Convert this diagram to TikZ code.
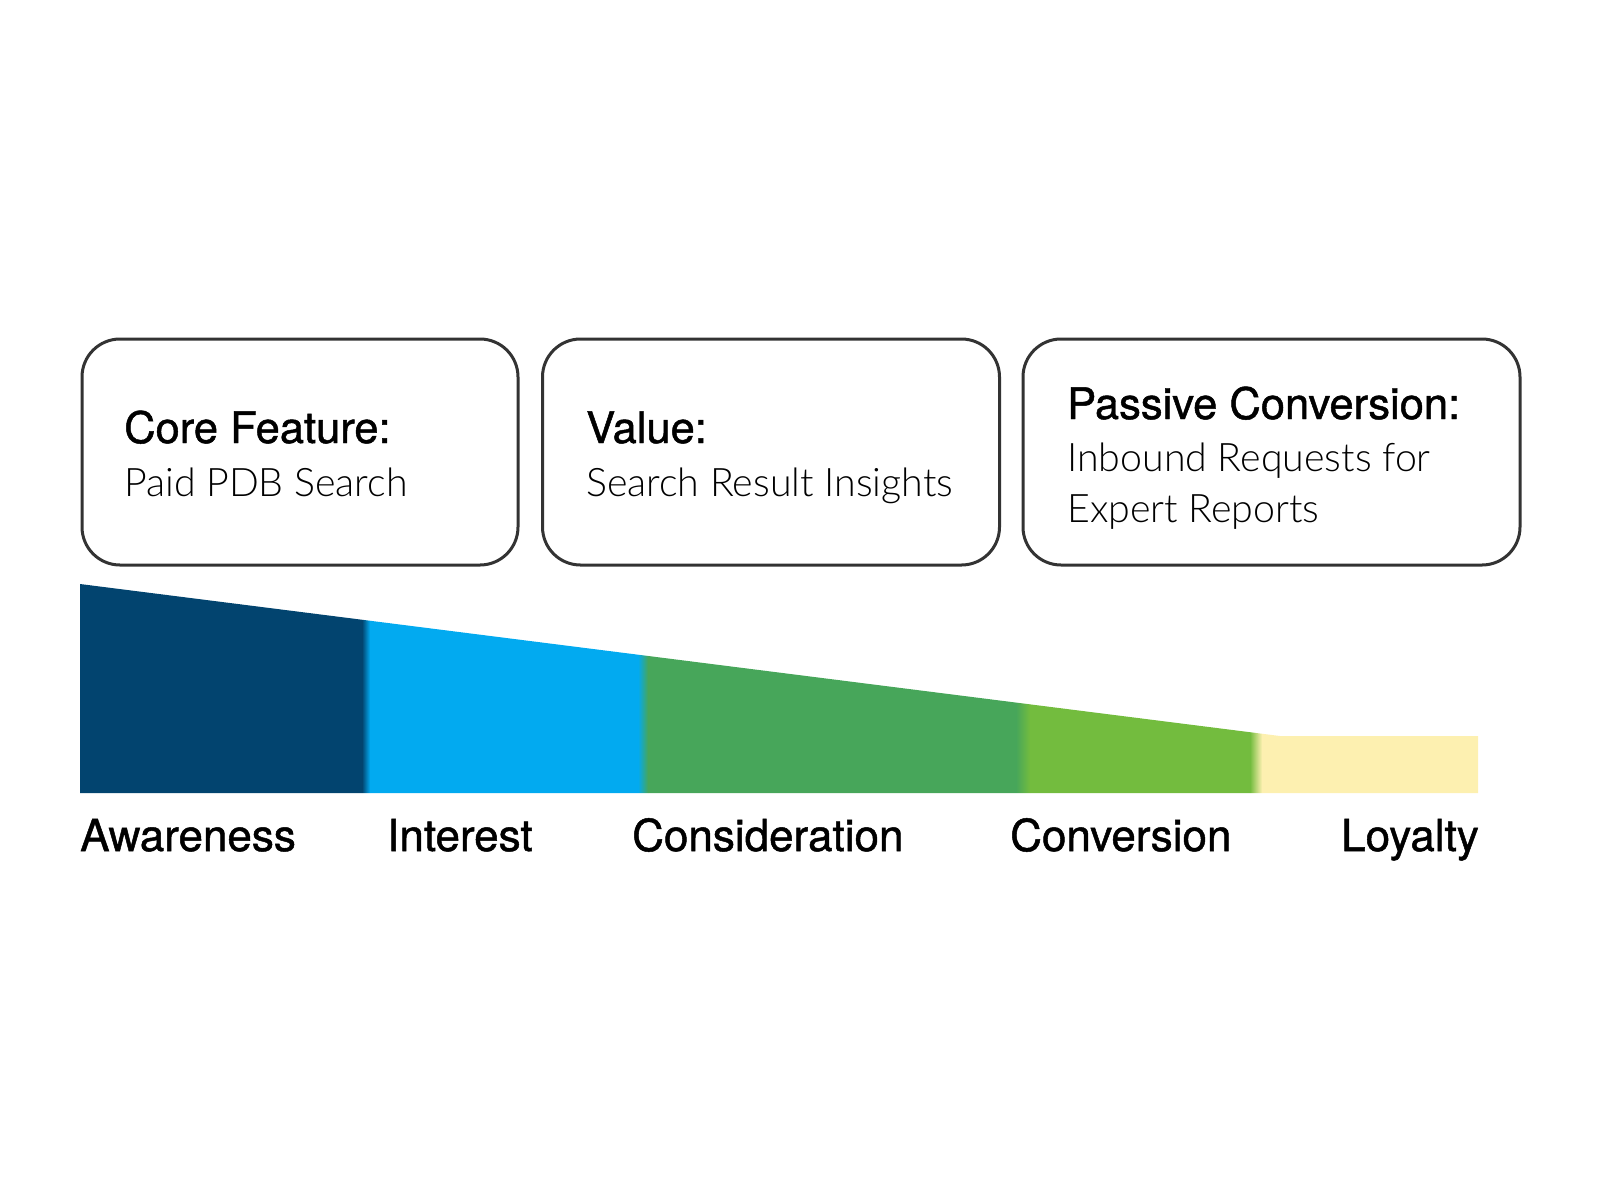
\documentclass[tikz,border=0pt]{standalone}
\usepackage{fontspec}
\setmainfont{TeX Gyre Heros}
\newfontfamily\medfont{TeX Gyre Heros}[FakeBold=1.1]
\newfontfamily\lightfont{Lato Light}
\definecolor{navy}{HTML}{02446F}
\definecolor{sky}{HTML}{02AAF0}
\definecolor{grn}{HTML}{47A65A}
\definecolor{lime}{HTML}{73BC3E}
\definecolor{cream}{HTML}{FDF0B0}
\definecolor{edge}{HTML}{333333}
\tikzset{
  card/.style={draw=edge, line width=3pt, rounded corners=38pt, fill=white, inner sep=0pt},
  headtxt/.style={anchor=base west, inner sep=0pt, font=\medfont\fontsize{43.5}{50}\selectfont},
  subtxt/.style={anchor=base west, inner sep=0pt, font=\lightfont\fontsize{39.3}{46}\selectfont},
  stagetxt/.style={anchor=base west, inner sep=0pt, font=\medfont\fontsize{44}{50}\selectfont}
}
\begin{document}
\begin{tikzpicture}[x=1pt,y=-1pt]
\useasboundingbox (0,0) rectangle (1600,1200);
% cards
\node[card, minimum width=436pt, minimum height=226pt] (c1) at (300,452) {};
\node[card, minimum width=457pt, minimum height=226pt] (c2) at (771,452) {};
\node[card, minimum width=497pt, minimum height=226pt] (c3) at (1271.5,452) {};
\node[headtxt] (h1) at (124,443) {Core Feature:};
\node[subtxt] (s1) at (124,496) {Paid PDB Search};
\node[headtxt] (h2) at (586,443) {Value:};
\node[subtxt] (s2) at (586,496) {Search Result Insights};
\node[headtxt] (h3) at (1067,419) {Passive Conversion:};
\node[subtxt] (s3a) at (1067,471) {Inbound Requests for};
\node[subtxt] (s3b) at (1067,522) {Expert Reports};
% funnel
\begin{scope}
\clip (80,584) -- (1280,736) -- (1478,736) -- (1478,793) -- (80,793) -- cycle;
\fill[navy] (78,580) rectangle (362,800);
\shade[left color=navy, right color=sky] (362,580) rectangle (370,800);
\fill[sky] (370,580) rectangle (638,800);
\shade[left color=sky, right color=grn] (638,580) rectangle (648,800);
\fill[grn] (648,580) rectangle (1016,800);
\shade[left color=grn, right color=lime] (1016,580) rectangle (1030,800);
\fill[lime] (1030,580) rectangle (1250,800);
\shade[left color=lime, right color=cream] (1250,580) rectangle (1262,800);
\fill[cream] (1262,580) rectangle (1480,800);
\end{scope}
% stage labels
\node[stagetxt] (l1) at (80,851) {Awareness};
\node[stagetxt] (l2) at (387,851) {Interest};
\node[stagetxt] (l3) at (632,851) {Consideration};
\node[stagetxt] (l4) at (1010,851) {Conversion};
\node[stagetxt, anchor=base east] (l5) at (1479,851) {Loyalty};
\end{tikzpicture}
\end{document}
